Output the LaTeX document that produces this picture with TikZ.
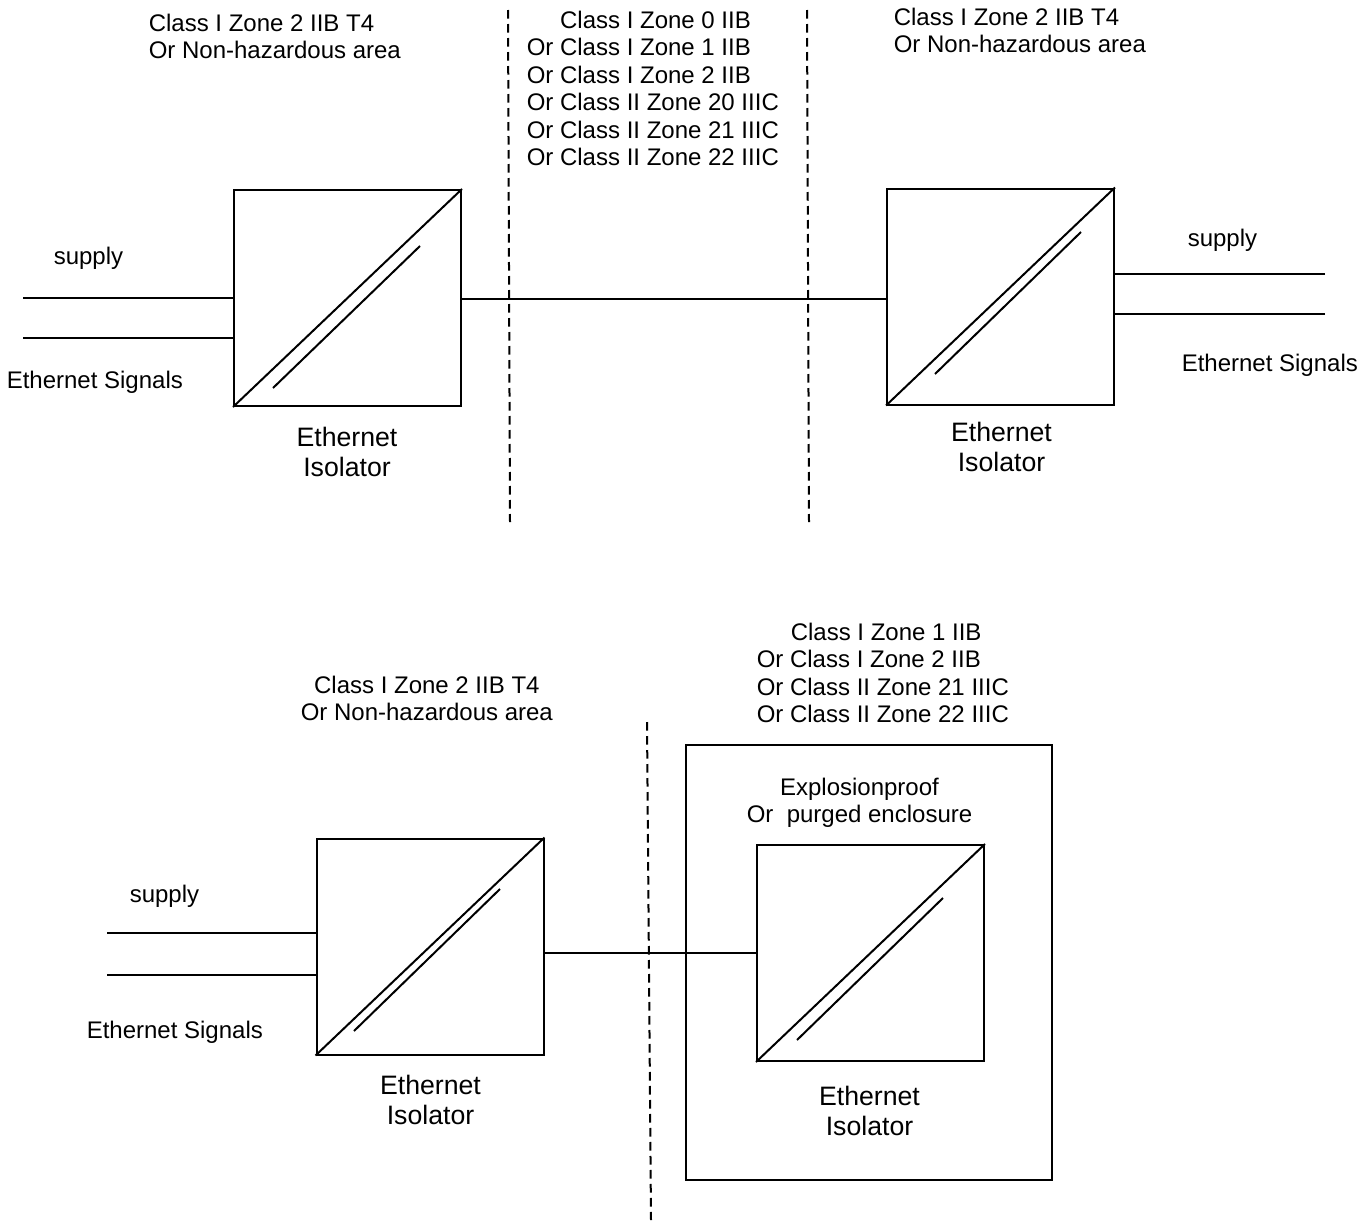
\documentclass[tikz,border=0pt]{standalone}
\usepackage{fontspec}
\setmainfont{Liberation Sans}
\tikzset{
  isobox/.style={draw,line width=1.5pt,inner sep=0pt,minimum width=170.25pt,minimum height=162pt},
  wire/.style={line width=1.5pt},
  zoneline/.style={line width=1.5pt,dash pattern=on 6.4pt off 4.1pt},
  lab/.style={inner sep=0pt,anchor=north west,align=left,font=\fontsize{18}{20.6}\selectfont},
  biglab/.style={inner sep=0pt,anchor=north,align=center,font=\fontsize{20}{22.5}\selectfont},
}
\begin{document}
\begin{tikzpicture}[x=0.75pt,y=-0.75pt]
\useasboundingbox (0,0) rectangle (1372,1221);
% boxes
\node[isobox] (b1) at (347.5,298) {};
\node[isobox] (b2) at (1000.5,296.5) {};
\node[isobox] (b3) at (430,946.5) {};
\node[isobox] (b4) at (870.5,953) {};
\node[draw,line width=1.5pt,inner sep=0pt,minimum width=274.5pt,minimum height=326.25pt] (encl) at (869,962.5) {};
% diagonals
\foreach \b in {b1,b2,b3,b4} \draw[wire] (\b.south west) -- (\b.north east);
\draw[wire] (273,388) -- (420,246);
\draw[wire] (935,374) -- (1081,232);
\draw[wire] (354,1031) -- (500,889);
\draw[wire] (797,1040) -- (943,898);
% free ends
\coordinate (a1) at (23,298);
\coordinate (a2) at (23,338);
\coordinate (c1) at (1325,274);
\coordinate (c2) at (1325,314);
\coordinate (d1) at (107,933);
\coordinate (d2) at (107,975);
% wires
\draw[wire] (a1) -- (a1 -| b1.west);
\draw[wire] (a2) -- (a2 -| b1.west);
\draw[wire] (c1) -- (c1 -| b2.east);
\draw[wire] (c2) -- (c2 -| b2.east);
\draw[wire] (d1) -- (d1 -| b3.west);
\draw[wire] (d2) -- (d2 -| b3.west);
\coordinate (m1) at (461,299);
\draw[wire] (m1) -- (m1 -| b2.west);
\coordinate (m2) at (544,953);
\draw[wire] (m2) -- (m2 -| b4.west);
% zone boundaries
\coordinate (z1a) at (508,10); \coordinate (z1b) at (510,522);
\coordinate (z2a) at (807,10); \coordinate (z2b) at (809,522);
\coordinate (z3a) at (647,722); \coordinate (z3b) at (651,1220);
\draw[zoneline] (z1a) -- (z1b);
\draw[zoneline] (z2a) -- (z2b);
\draw[zoneline] (z3a) -- (z3b);
% labels
\node[lab] (t1) at (148.5,13.5) {Class I Zone 2 IIB T4\\Or Non-hazardous area};
\node[lab] (t2) at (526.5,10.5) {\hspace*{25pt}Class I Zone 0 IIB\\Or Class I Zone 1 IIB\\Or Class I Zone 2 IIB\\Or Class II Zone 20 IIIC\\Or Class II Zone 21 IIIC\\Or Class II Zone 22 IIIC};
\node[lab] (t3) at (893.5,7.5) {Class I Zone 2 IIB T4\\Or Non-hazardous area};
\node[lab] (t4) at (300.5,675.5) {\hspace*{10pt}Class I Zone 2 IIB T4\\Or Non-hazardous area};
\node[lab] (t5) at (756.5,622.5) {\hspace*{25.5pt}Class I Zone 1 IIB\\Or Class I Zone 2 IIB\\Or Class II Zone 21 IIIC\\Or Class II Zone 22 IIIC};
\node[lab] (t6) at (746.5,777.5) {\hspace*{25pt}Explosionproof\\Or\ \ purged enclosure};
\node[lab] (s1) at (53.5,246.5) {supply};
\node[lab] (s2) at (1187.5,228.5) {supply};
\node[lab] (s3) at (129.5,884.5) {supply};
\node[lab] (e1) at (6.5,370.5) {Ethernet Signals};
\node[lab] (e2) at (1181.5,353.5) {Ethernet Signals};
\node[lab] (e3) at (86.5,1020.5) {Ethernet Signals};
\node[biglab] (i1) at (347,427) {Ethernet\\Isolator};
\node[biglab] (i2) at (1001.5,422) {Ethernet\\Isolator};
\node[biglab] (i3) at (430.5,1075) {Ethernet\\Isolator};
\node[biglab] (i4) at (869.5,1086) {Ethernet\\Isolator};
\end{tikzpicture}
\end{document}
